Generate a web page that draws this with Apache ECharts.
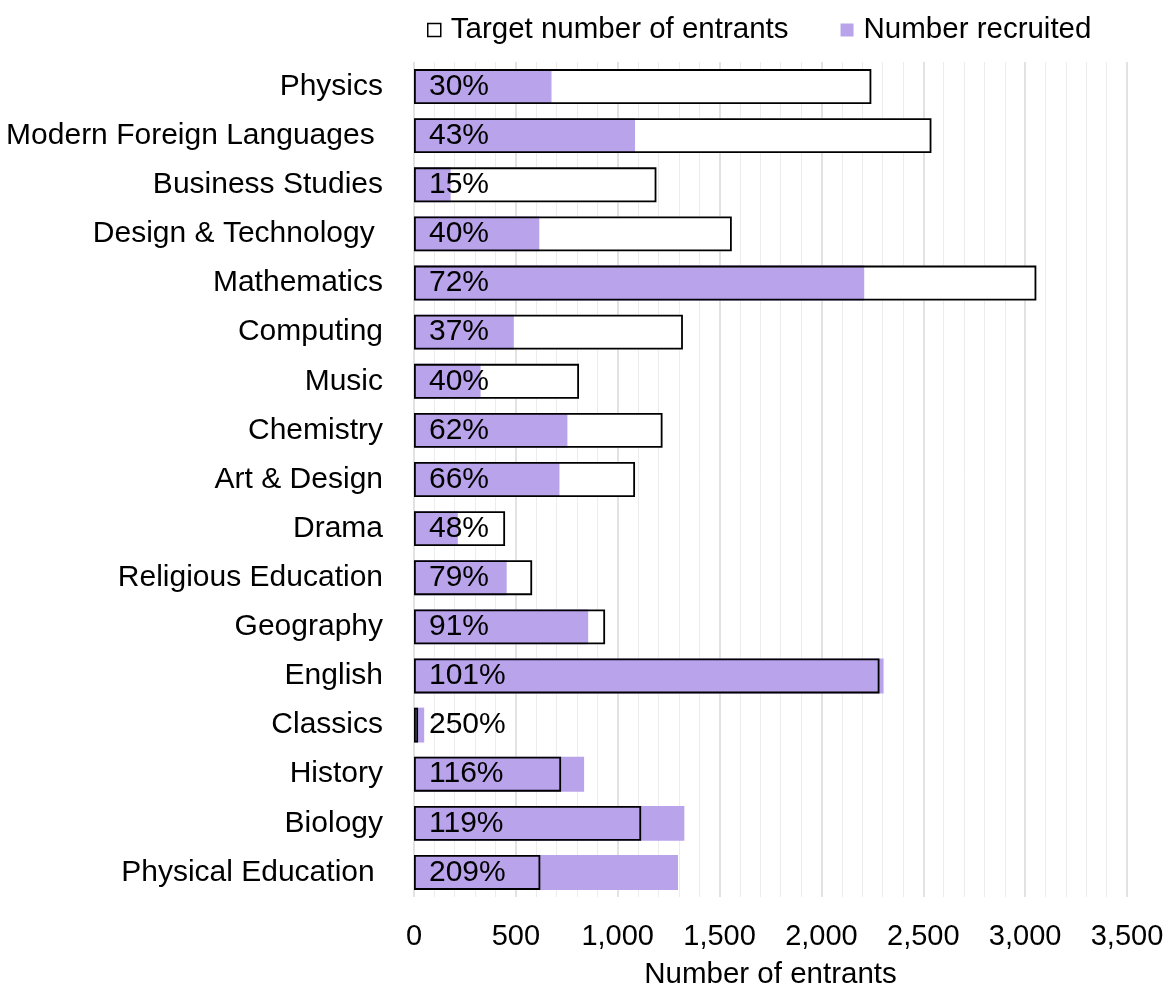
<!DOCTYPE html>
<html>
<head>
<meta charset="utf-8">
<script src="https://cdn.jsdelivr.net/npm/echarts@6/dist/echarts.min.js"></script>
<style>
  html, body { margin: 0; padding: 0; background: #fff; }
  #chart { width: 1166px; height: 988px; }
</style>
</head>
<body>
<div id="chart"></div>
<script>
// Teacher training recruitment by subject
const subjects = [
  'Physics', 'Modern Foreign Languages ', 'Business Studies', 'Design & Technology ',
  'Mathematics', 'Computing', 'Music', 'Chemistry', 'Art & Design', 'Drama',
  'Religious Education', 'Geography', 'English', 'Classics', 'History', 'Biology',
  'Physical Education '
];
const targetEntrants = [2245, 2540, 1190, 1560, 3055, 1320, 810, 1220, 1085, 447, 580, 938, 2285, 20, 722, 1115, 620];
const recruited = [675, 1085, 180, 615, 2210, 490, 327, 753, 714, 215, 455, 855, 2305, 50, 835, 1327, 1296];
const percentOfTarget = [30, 43, 15, 40, 72, 37, 40, 62, 66, 48, 79, 91, 101, 250, 116, 119, 209];
const xTicks = { min: 0, max: 3500, step: 500 };

const FONT = "'Liberation Sans', Arial, sans-serif";
const PURPLE = '#B9A3EA';
const TARGET_NAME = 'Target number of entrants';
const RECRUITED_NAME = 'Number recruited';

const chart = echarts.init(document.getElementById('chart'), null, { renderer: 'canvas' });

chart.setOption({
  animation: false,
  backgroundColor: '#fff',
  textStyle: { fontFamily: FONT, color: '#000' },
  legend: {
    top: 10,
    left: 422,
    itemWidth: 13,
    itemHeight: 13,
    itemGap: 52,
    textStyle: { fontSize: 29.5, color: '#000', fontFamily: FONT, padding: [0, 0, 0, 5] },
    data: [
      { name: TARGET_NAME, icon: 'rect', itemStyle: { color: '#fff', borderColor: '#000', borderWidth: 1.5 } },
      { name: RECRUITED_NAME, icon: 'rect', itemStyle: { color: PURPLE, borderWidth: 0 } }
    ]
  },
  grid: { left: 414, right: 39, top: 62, bottom: 91, containLabel: false, outerBoundsMode: 'none' },
  xAxis: {
    type: 'value',
    min: xTicks.min,
    max: xTicks.max,
    interval: xTicks.step,
    name: 'Number of entrants',
    nameLocation: 'middle',
    nameGap: 63,
    nameTextStyle: { fontSize: 29.5, color: '#000', fontFamily: FONT },
    axisLine: { show: false },
    axisTick: { show: false },
    axisLabel: {
      fontSize: 29, color: '#000', fontFamily: FONT, margin: 25,
      formatter: v => v.toLocaleString('en-GB')
    },
    splitLine: { show: true, lineStyle: { color: '#d9d9d9', width: 1.5 } },
    minorTick: { show: false, splitNumber: 5 },
    minorSplitLine: { show: true, lineStyle: { color: '#ececec', width: 1 } }
  },
  yAxis: {
    type: 'category',
    data: subjects,
    inverse: true,
    axisLine: { show: false },
    axisTick: { show: false },
    axisLabel: { fontSize: 30, color: '#000', fontFamily: FONT, margin: 31 }
  },
  series: [
    {
      // white backing of the target bar
      name: TARGET_NAME,
      type: 'bar',
      data: targetEntrants,
      barWidth: '71%',
      barGap: '-100%',
      itemStyle: { color: '#fff' },
      silent: true
    },
    {
      name: RECRUITED_NAME,
      type: 'bar',
      data: recruited,
      barWidth: '71%',
      barGap: '-100%',
      itemStyle: { color: PURPLE }
    },
    {
      // black outline of the target bar, drawn above the recruited bar
      name: TARGET_NAME,
      type: 'bar',
      data: targetEntrants,
      barWidth: '71%',
      barGap: '-100%',
      itemStyle: { color: 'rgba(0,0,0,0)', borderColor: '#000', borderWidth: 1.8 },
      label: {
        show: true,
        position: 'insideLeft',
        distance: 15,
        fontSize: 30,
        color: '#000',
        fontFamily: FONT,
        formatter: p => percentOfTarget[p.dataIndex] + '%'
      }
    }
  ]
});
</script>
</body>
</html>
